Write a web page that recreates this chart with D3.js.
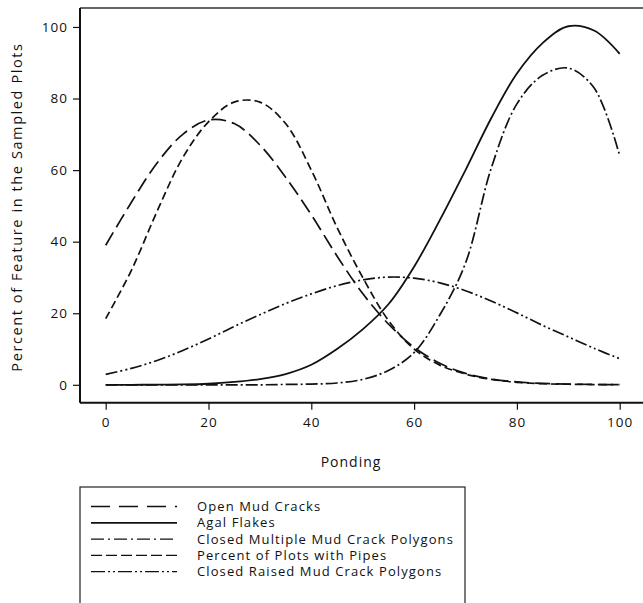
<!doctype html>
<html lang="en">
<head>
    <meta charset="UTF-8">
    <title>Ponding</title>
    <script src="https://cdnjs.cloudflare.com/ajax/libs/d3/7.8.5/d3.min.js"></script>
    <style>
        body { margin: 0; background: #fff; }
        text { font-family: "Open Sans", "Noto Sans", sans-serif; fill: #111; }
    </style>
</head>
<body>
<svg id="chart" width="643" height="603"></svg>

<script>
    // ponding values (x axis)
    var ponding = [0, 5, 10, 15, 20, 25, 30, 35, 40, 45, 50, 55, 60, 65, 70, 75, 80, 85, 90, 95, 100];

    // curves
    var openMudCracks   = [39, 51, 62, 70, 74, 73, 67, 58, 47.5, 36, 25.5, 17, 10.5, 6, 3.2, 1.6, 0.8, 0.4, 0.2, 0.1, 0.05];
    var agalFlakes      = [0, 0, 0.05, 0.1, 0.3, 0.8, 1.6, 3, 5.6, 10, 15.5, 22.5, 33, 46, 60, 74.5, 87, 95.5, 100.2, 99, 92.5];
    var closedMultiple  = [0, 0, 0, 0, 0, 0, 0, 0.1, 0.2, 0.5, 1.5, 4, 9, 19.5, 34, 60.5, 78.5, 86.5, 88.5, 83, 64];
    var plotsWithPipes  = [18.5, 32, 48.5, 63.5, 73.5, 79, 79, 73, 60, 44, 30, 18, 10, 5.5, 3, 1.5, 0.7, 0.3, 0.15, 0.07, 0.03];
    var closedRaised    = [2.9, 4.6, 6.8, 9.6, 12.8, 16.3, 19.6, 22.7, 25.4, 27.7, 29.3, 30.1, 29.8, 28.5, 26.3, 23.4, 20.1, 16.6, 13.4, 10.2, 7.3];

    var seriesNames = ["Open Mud Cracks", "Agal Flakes", "Closed Multiple Mud Crack Polygons",
        "Percent of Plots with Pipes", "Closed Raised Mud Crack Polygons"];
    var seriesValues = [openMudCracks, agalFlakes, closedMultiple, plotsWithPipes, closedRaised];

    var xTicks = [0, 20, 40, 60, 80, 100];
    var yTicks = [0, 20, 40, 60, 80, 100];

    // line styles
    var plotDash   = ["15,6", null, "12,3,2,3", "8,4", "12,3,2,3,2,3"];
    var legendDash = ["19,9", null, "13,4,2,4", "11,4", "14,3,2,3,2,3"];

    var svg = d3.select('#chart');

    var x = d3.scaleLinear().domain([-5, 105]).range([80, 645.4]);
    var y = d3.scaleLinear().domain([-5, 105.3]).range([402.7, 8]);

    // frame top line
    svg.append('line')
        .attr('x1', 80).attr('x2', 643)
        .attr('y1', 8).attr('y2', 8)
        .attr('stroke', '#333').attr('stroke-width', 1.5);

    // axes
    var yAxis = svg.append('g')
        .attr('transform', 'translate(80,0)')
        .call(d3.axisLeft(y).tickValues(yTicks).tickSize(7).tickPadding(5));

    var xAxis = svg.append('g')
        .attr('transform', 'translate(0,402.7)')
        .call(d3.axisBottom(x).tickValues(xTicks).tickSize(7).tickPadding(8));

    [xAxis, yAxis].forEach(function (ax) {
        ax.select('.domain').attr('stroke', '#111').attr('stroke-width', 2);
        ax.selectAll('.tick line').attr('stroke', '#111').attr('stroke-width', 1.2);
        ax.selectAll('.tick text')
            .attr('fill', '#111')
            .style('font-family', '"Open Sans", "Noto Sans", sans-serif')
            .style('font-size', '13.5px')
            .style('letter-spacing', '1px');
    });
    // y domain stops at frame top
    yAxis.select('.domain').attr('d', 'M0,' + y(-5) + 'V' + 8);
    xAxis.select('.domain').attr('d', 'M80,0H643');

    // axis titles
    svg.append('text')
        .attr('transform', 'translate(22,207) rotate(-90)')
        .attr('text-anchor', 'middle')
        .style('font-size', '14.5px')
        .style('letter-spacing', '1.6px')
        .text('Percent of Feature in the Sampled Plots');

    svg.append('text')
        .attr('x', 351)
        .attr('y', 467)
        .attr('text-anchor', 'middle')
        .style('font-size', '14px')
        .style('letter-spacing', '1px')
        .text('Ponding');

    // curves
    var line = d3.line()
        .x(function (d) { return x(d[0]); })
        .y(function (d) { return y(d[1]); })
        .curve(d3.curveCatmullRom);

    seriesValues.forEach(function (vals, i) {
        var pts = ponding.map(function (p, j) { return [p, vals[j]]; });
        svg.append('path')
            .datum(pts)
            .attr('d', line)
            .attr('fill', 'none')
            .attr('stroke', '#111')
            .attr('stroke-width', i === 1 ? 1.8 : 1.7)
            .attr('stroke-dasharray', plotDash[i]);
    });

    // legend
    svg.append('rect')
        .attr('x', 80).attr('y', 487)
        .attr('width', 385).attr('height', 140)
        .attr('fill', 'none')
        .attr('stroke', '#222').attr('stroke-width', 1.2);

    seriesNames.forEach(function (name, i) {
        var ly = 506.5 + i * 16.3;
        svg.append('line')
            .attr('x1', 91).attr('x2', 177)
            .attr('y1', ly).attr('y2', ly)
            .attr('stroke', '#111')
            .attr('stroke-width', i === 1 ? 1.8 : 1.3)
            .attr('stroke-dasharray', legendDash[i]);
        svg.append('text')
            .attr('x', 197)
            .attr('y', ly + 4.5)
            .style('font-size', '13px')
            .style('letter-spacing', '1.1px')
            .text(name);
    });
</script>
</body>
</html>
